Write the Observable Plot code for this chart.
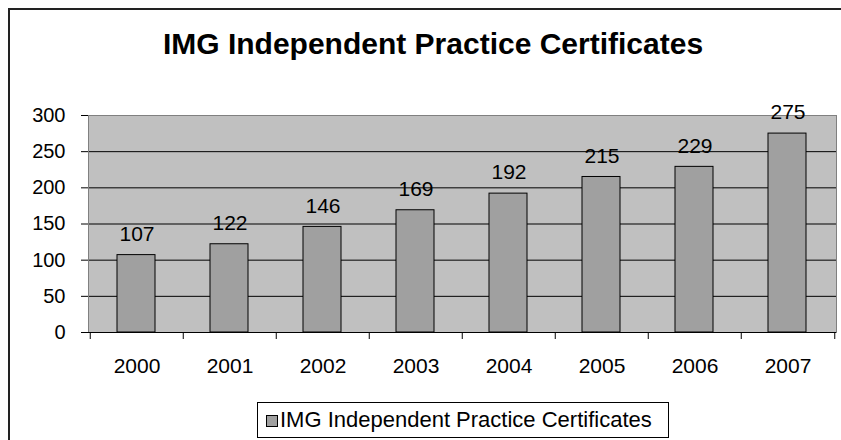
<!DOCTYPE html>
<html>
<head>
<meta charset="utf-8">
<script src="https://cdn.jsdelivr.net/npm/d3@7"></script>
<script src="https://cdn.jsdelivr.net/npm/@observablehq/plot@0.6"></script>
<style>
  html, body { margin: 0; padding: 0; background: #fff; }
  #wrap { position: relative; width: 841px; height: 440px; overflow: hidden; font-family: "Liberation Sans", Arial, sans-serif; }
  #border { position: absolute; left: 8px; top: 8px; width: 900px; height: 500px; border: 2px solid #222; box-sizing: border-box; }
  #title { position: absolute; top: 29px; left: 433px; transform: translateX(-50%); white-space: nowrap; font-weight: bold; font-size: 30px; line-height: 30px; color: #000; }
  #chart { position: absolute; left: 0; top: 100px; }
  #legend { position: absolute; left: 257px; top: 402px; width: 412px; height: 36px; box-sizing: border-box; border: 1px solid #000; background: #fff; }
  #legend .sw { position: absolute; left: 8px; top: 12px; width: 10px; height: 10px; background: #a0a0a0; border: 1px solid #000; }
  #legend .lb { position: absolute; left: 22px; top: 0; line-height: 34px; font-size: 22px; white-space: nowrap; color: #000; }
</style>
</head>
<body>
<div id="wrap">
  <div id="border"></div>
  <div id="title"></div>
  <div id="chart"></div>
  <div id="legend"><div class="sw"></div><div class="lb"></div></div>
</div>
<script>
const titleText = "IMG Independent Practice Certificates";
const seriesName = "IMG Independent Practice Certificates";
const years = ["2000", "2001", "2002", "2003", "2004", "2005", "2006", "2007"];
const values = [107, 122, 146, 169, 192, 215, 229, 275];
const yTicks = [0, 50, 100, 150, 200, 250, 300];
const gridValues = [50, 100, 150, 200, 250];

const data = years.map((y, i) => ({year: y, value: values[i]}));

const W = 841, H = 290, mt = 15, mb = 58, ml = 88, mr = 5;
const plotH = H - mt - mb;
const bw = (W - ml - mr) / years.length;

document.getElementById("title").textContent = titleText;
document.querySelector("#legend .lb").textContent = seriesName;

const chart = Plot.plot({
  width: W,
  height: H,
  marginTop: mt,
  marginBottom: mb,
  marginLeft: ml,
  marginRight: mr,
  style: {fontFamily: "'Liberation Sans', Arial, sans-serif", fontSize: "20px", color: "#000", background: "transparent"},
  x: {type: "band", domain: years, padding: 0, label: null},
  y: {domain: [0, 300], label: null},
  marks: [
    Plot.frame({fill: "#c0c0c0", stroke: null}),
    Plot.ruleY(gridValues, {stroke: "#000", strokeWidth: 1}),
    Plot.frame({stroke: "#808080", strokeWidth: 1}),
    Plot.barY(data, {x: "year", y: "value", fill: "#a0a0a0", stroke: "#000", strokeWidth: 1, insetLeft: 27, insetRight: 28}),
    Plot.text(data, {x: "year", y: "value", text: d => String(d.value), dy: -21, fontSize: 21, fill: "#000"}),
    Plot.ruleY([0], {stroke: "#000", strokeWidth: 1}),
    Plot.ruleX(years, {x: d => d, dx: -bw / 2, insetTop: plotH, insetBottom: -7, stroke: "#000"}),
    Plot.ruleX([years[years.length - 1]], {x: d => d, dx: bw / 2, insetTop: plotH, insetBottom: -7, stroke: "#000"}),
    Plot.axisY({ticks: yTicks, tickSize: 7, tickPadding: 16, fontSize: 20, stroke: "#000", fill: "#000", label: null, tickFormat: d => String(d)}),
    Plot.axisX({tickSize: 0, tickPadding: 26, fontSize: 21, fill: "#000", label: null})
  ]
});
document.getElementById("chart").appendChild(chart);
</script>
</body>
</html>
